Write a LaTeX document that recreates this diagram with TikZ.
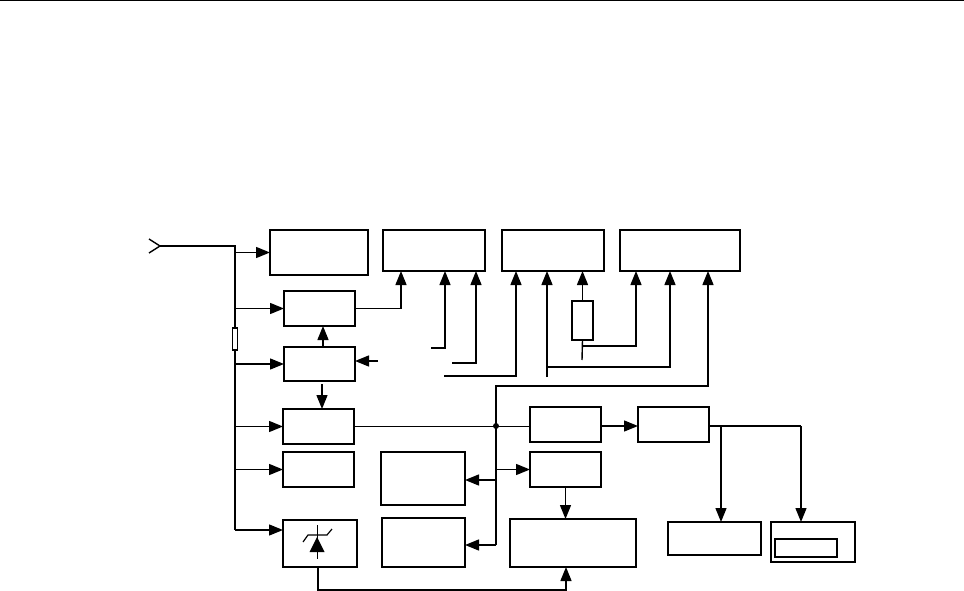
\documentclass[tikz,border=0pt]{standalone}
\usepackage{tikz}
\usetikzlibrary{arrows.meta,calc,positioning}

\begin{document}
\begin{tikzpicture}[
    x=1pt,y=-1pt,
    >={Triangle[length=14pt,width=11pt]},
    line width=1.4pt,
    blockbox/.style={draw,inner sep=0pt,outer sep=0pt},
    wire/.style={draw},
    feed/.style={draw,->}
]
\useasboundingbox (0,0) rectangle (964,591);

% Page rule
\coordinate (ruleL) at (0,0.5);
\coordinate (ruleR) at (964,0.5);
\draw (ruleL) -- (ruleR);

% Top row
\node[blockbox,minimum width=98,minimum height=45] (supply) at (319,252.5) {};
\node[blockbox,minimum width=102,minimum height=41] (stageA) at (434,250.5) {};
\node[blockbox,minimum width=102,minimum height=41] (stageB) at (553,250.5) {};
\node[blockbox,minimum width=120,minimum height=41] (stageC) at (680,250.5) {};

% Left column
\node[blockbox,minimum width=71,minimum height=35] (regA) at (319.5,308.5) {};
\node[blockbox,minimum width=71,minimum height=34] (regB) at (319.5,364) {};
\node[blockbox,minimum width=71,minimum height=35] (demod) at (318.5,426.5) {};
\node[blockbox,minimum width=71,minimum height=35] (osc) at (318.5,469.5) {};
\node[blockbox,minimum width=74,minimum height=47] (zener) at (320,543.5) {};

% Middle blocks
\node[blockbox,minimum width=84,minimum height=53] (ctrlA) at (423,478.5) {};
\node[blockbox,minimum width=83,minimum height=49] (ctrlB) at (423.5,542.5) {};
\node[blockbox,minimum width=71,minimum height=35] (filtA) at (565.5,424.5) {};
\node[blockbox,minimum width=71,minimum height=35] (filtB) at (673.5,424.5) {};
\node[blockbox,minimum width=71,minimum height=35] (mixer) at (565.5,469.5) {};
\node[blockbox,minimum width=126,minimum height=48] (output) at (573,543) {};

% Right blocks
\node[blockbox,minimum width=93,minimum height=33] (load) at (714.5,538.5) {};
\node[blockbox,minimum width=84,minimum height=40] (meter) at (813,542) {};
\node[blockbox,minimum width=62,minimum height=18] (scale) at (806,548) {};

% Small parts
\node[blockbox,minimum width=21,minimum height=39] (resistor) at (582.5,320.5) {};
\node[blockbox,minimum width=5,minimum height=22] (fuse) at (235,339) {};

% Antenna and supply rail
\coordinate (antTip) at (160,246);
\coordinate (antUp) at (149,239);
\coordinate (antDown) at (149,253);
\coordinate (railTop) at (235,246);
\coordinate (railEnd) at (235,530);
\draw (antUp) -- (antTip) -- (antDown);
\draw (antTip) -- (railTop) -- (fuse.north);
\draw (fuse.south) -- (railEnd);

% Rail branches
\draw[feed] (railTop |- supply.west) -- (supply.west);
\draw[feed] (railTop |- regA.west) -- (regA.west);
\draw[feed] (railTop |- regB.west) -- (regB.west);
\draw[feed] (railTop |- demod.west) -- (demod.west);
\draw[feed] (railTop |- osc.west) -- (osc.west);
\draw[feed] (railEnd) -- (railEnd -| zener.west);

% Regulators
\coordinate (regBin) at (378,361);
\coordinate (regBdown) at (322,384);
\draw[feed] ($(regB.north)+(3.5,0)$) -- ($(regA.south)+(3.5,0)$);
\draw[feed] (regBin) -- (regBin -| regB.east);
\draw[feed] (regBdown) -- (regBdown |- demod.north);
\draw[feed] (regA.east) -| (401,271);

% Free inputs of the top row
\coordinate (inA) at (431,348);
\coordinate (inB) at (452,363);
\coordinate (inC) at (444,376);
\coordinate (inD) at (547,377);
\coordinate (inE) at (582,360);
\draw[feed] (inA) -| (445,271);
\draw[feed] (inB) -| (476,271);
\draw[feed] (inC) -| (516,271);
\draw[feed] (inD) -- (inD |- stageB.south);
\draw[feed] (inD |- 0,367) -| (670,271);
\draw (inE) -- (resistor.south);
\draw[feed] (resistor.north) -- (resistor.north |- stageB.south);
\draw[feed] (inE |- 0,346) -| (636,271);

% Signal bus
\coordinate (busTop) at (496,386);
\coordinate (busDot) at (496,426);
\coordinate (busEnd) at (496,545);
\draw (demod.east) -- (filtA.west |- demod.east);
\fill (busDot) circle (3);
\draw[feed] (busDot) -- (busTop) -| (708,271);
\draw (busDot) -- (busEnd);
\draw[feed] (busEnd) -- (busEnd -| ctrlB.east);
\draw[feed] (busDot |- 0,480) -- (ctrlA.east |- 0,480);
\draw[feed] (busDot |- mixer.west) -- (mixer.west);

% Signal path
\draw[feed] (filtA.east |- busDot) -- (filtB.west |- busDot);
\draw[feed] (mixer.south) -- (mixer.south |- output.north);
\coordinate (tapL) at (721,426);
\coordinate (tapR) at (801,426);
\draw (filtB.east |- tapL) -- (tapR);
\draw[feed] (tapL) -- (tapL |- load.north);
\draw[feed] (tapR) -- (tapR |- meter.north);

% Zener symbol
\coordinate (zenTop) at (317.5,525);
\coordinate (zenBot) at (317.5,559);
\draw[line width=1.2pt] (zenTop) -- (zenBot);
\draw[line width=1.2pt] (303,542) -- (308,535) -- (327,535) -- (332,529);
\fill (317,537) -- (324.5,552) -- (309.5,552) -- cycle;

% Feedback under the row
\coordinate (backL) at (318,590);
\coordinate (backR) at (566,590);
\draw[feed] (backL |- zener.south) -- (backL) -- (backR) -- (backR |- output.south);

\end{tikzpicture}
\end{document}
